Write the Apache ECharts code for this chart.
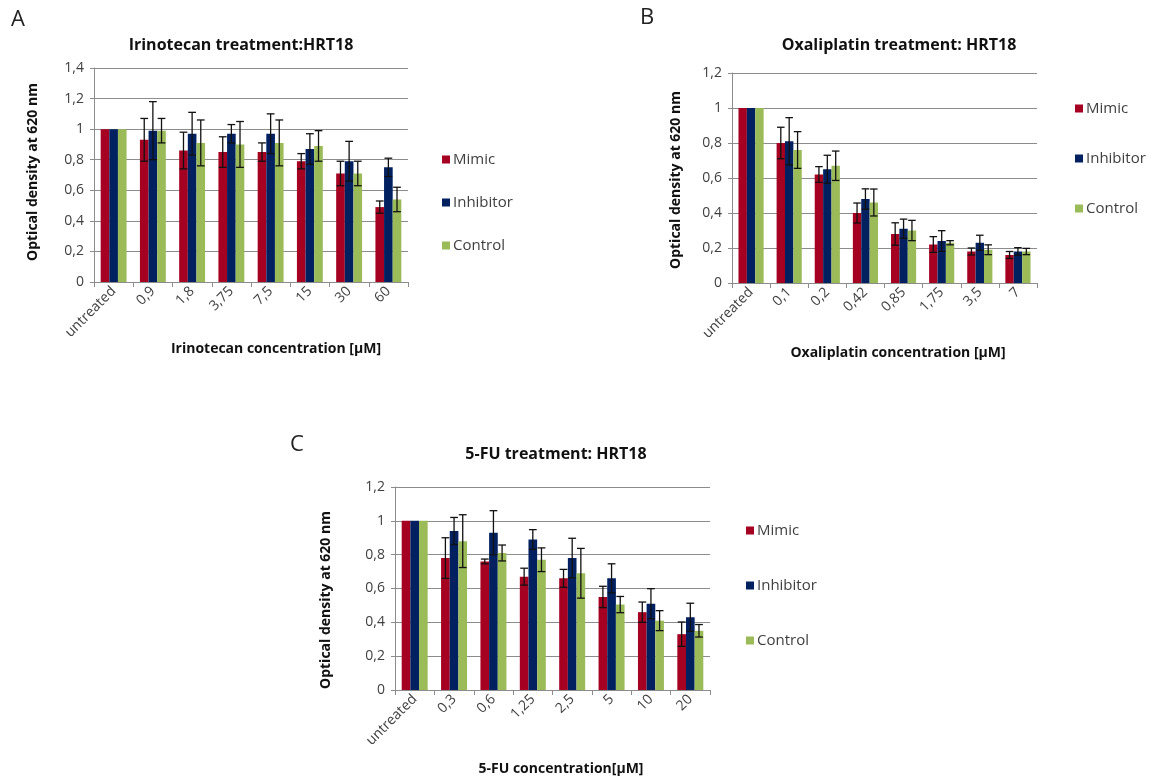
<!DOCTYPE html>
<html>
<head>
<meta charset="utf-8">
<script src="https://cdn.jsdelivr.net/npm/echarts@6/dist/echarts.min.js"></script>
<style>
  html, body { margin: 0; padding: 0; background: #fff; }
  #chart { width: 1156px; height: 783px; }
</style>
</head>
<body>
<div id="chart"></div>
<script>
// Optical density (620 nm) of HRT18 cells after drug treatment, mean ± SD
const seriesNames = ['Mimic', 'Inhibitor', 'Control'];
const seriesColors = ['#A50021', '#002060', '#9BBB59'];

// Panel A: Irinotecan
const irinoCats = ['untreated', '0,9', '1,8', '3,75', '7,5', '15', '30', '60'];
const irinoMimic = [1, 0.93, 0.86, 0.85, 0.85, 0.79, 0.71, 0.49];
const irinoMimicErr = [0, 0.14, 0.12, 0.10, 0.06, 0.05, 0.08, 0.04];
const irinoInhib = [1, 0.99, 0.97, 0.97, 0.97, 0.87, 0.79, 0.75];
const irinoInhibErr = [0, 0.19, 0.14, 0.06, 0.13, 0.10, 0.13, 0.06];
const irinoCtrl = [1, 0.99, 0.91, 0.90, 0.91, 0.89, 0.71, 0.54];
const irinoCtrlErr = [0, 0.08, 0.15, 0.15, 0.15, 0.10, 0.08, 0.08];

// Panel B: Oxaliplatin
const oxaliCats = ['untreated', '0,1', '0,2', '0,42', '0,85', '1,75', '3,5', '7'];
const oxaliMimic = [1, 0.80, 0.62, 0.40, 0.28, 0.22, 0.18, 0.16];
const oxaliMimicErr = [0, 0.09, 0.045, 0.057, 0.064, 0.045, 0.02, 0.02];
const oxaliInhib = [1, 0.81, 0.65, 0.48, 0.31, 0.24, 0.23, 0.18];
const oxaliInhibErr = [0, 0.135, 0.08, 0.058, 0.055, 0.059, 0.043, 0.022];
const oxaliCtrl = [1, 0.76, 0.67, 0.46, 0.30, 0.23, 0.19, 0.18];
const oxaliCtrlErr = [0, 0.105, 0.084, 0.077, 0.058, 0.012, 0.028, 0.018];

// Panel C: 5-FU
const fuCats = ['untreated', '0,3', '0,6', '1,25', '2,5', '5', '10', '20'];
const fuMimic = [1, 0.78, 0.76, 0.67, 0.66, 0.55, 0.46, 0.33];
const fuMimicErr = [0, 0.12, 0.014, 0.05, 0.053, 0.063, 0.06, 0.072];
const fuInhib = [1, 0.94, 0.93, 0.89, 0.78, 0.66, 0.51, 0.43];
const fuInhibErr = [0, 0.08, 0.13, 0.058, 0.117, 0.086, 0.089, 0.083];
const fuCtrl = [1, 0.88, 0.81, 0.77, 0.69, 0.505, 0.41, 0.35];
const fuCtrlErr = [0, 0.156, 0.047, 0.07, 0.147, 0.048, 0.059, 0.037];

const FONT = '"Open Sans", "Liberation Sans", sans-serif';
const TXT = '#404040';
const GRIDLINE = '#8C8C8C';
const CAT_GAP = 0.34;

const panels = [
  {
    cats: irinoCats, yMax: 1.4,
    values: [irinoMimic, irinoInhib, irinoCtrl],
    errors: [irinoMimicErr, irinoInhibErr, irinoCtrlErr],
    grid: { left: 94, top: 68, width: 314, height: 214 }
  },
  {
    cats: oxaliCats, yMax: 1.2,
    values: [oxaliMimic, oxaliInhib, oxaliCtrl],
    errors: [oxaliMimicErr, oxaliInhibErr, oxaliCtrlErr],
    grid: { left: 732, top: 73, width: 305, height: 210 }
  },
  {
    cats: fuCats, yMax: 1.2,
    values: [fuMimic, fuInhib, fuCtrl],
    errors: [fuMimicErr, fuInhibErr, fuCtrlErr],
    grid: { left: 395, top: 487, width: 315, height: 203 }
  }
];

const grids = [], xAxes = [], yAxes = [], series = [];

panels.forEach((p, gi) => {
  grids.push(Object.assign({ containLabel: false }, p.grid));
  xAxes.push({
    type: 'category', gridIndex: gi, data: p.cats,
    axisLine: { lineStyle: { color: GRIDLINE, width: 1 } },
    axisTick: { show: true, length: 5, lineStyle: { color: GRIDLINE } },
    axisLabel: { rotate: 45, color: TXT, fontSize: 14, fontFamily: FONT, margin: 7, interval: 0 }
  });
  yAxes.push({
    type: 'value', gridIndex: gi, min: 0, max: p.yMax, interval: 0.2,
    axisLine: { show: true, lineStyle: { color: GRIDLINE, width: 1 } },
    axisTick: { show: true, length: 4, lineStyle: { color: GRIDLINE } },
    splitLine: { show: true, lineStyle: { color: GRIDLINE, width: 1 } },
    axisLabel: {
      color: TXT, fontSize: 14, fontFamily: FONT, margin: 10,
      formatter: v => String(Math.round(v * 10) / 10).replace('.', ',')
    }
  });

  seriesNames.forEach((name, si) => {
    series.push({
      type: 'bar', name, xAxisIndex: gi, yAxisIndex: gi,
      data: p.values[si],
      barGap: '0%', barCategoryGap: (CAT_GAP * 100) + '%',
      itemStyle: { color: seriesColors[si] },
      z: 2
    });
  });

  // error bars drawn on top of each grouped bar
  seriesNames.forEach((name, si) => {
    series.push({
      type: 'custom', xAxisIndex: gi, yAxisIndex: gi,
      data: p.values[si].map((v, i) => [i, v, p.errors[si][i]]),
      encode: { x: 0, y: 1 },
      z: 5, silent: true,
      renderItem: (params, api) => {
        const idx = api.value(0), v = api.value(1), e = api.value(2);
        if (!e) return null;
        const band = api.size([1, 0])[0];
        const bw = band * (1 - CAT_GAP) / 3;
        const cx = api.coord([idx, v])[0] + (si - 1) * bw;
        const yTop = api.coord([idx, v + e])[1];
        const yBot = api.coord([idx, v - e])[1];
        const cap = bw * 0.45;
        const style = { stroke: '#111', lineWidth: 1.3 };
        return {
          type: 'group',
          children: [
            { type: 'line', shape: { x1: cx, y1: yTop, x2: cx, y2: yBot }, style },
            { type: 'line', shape: { x1: cx - cap, y1: yTop, x2: cx + cap, y2: yTop }, style },
            { type: 'line', shape: { x1: cx - cap, y1: yBot, x2: cx + cap, y2: yBot }, style }
          ]
        };
      }
    });
  });
});

const legendBase = {
  orient: 'vertical', icon: 'rect', itemWidth: 8, itemHeight: 8,
  data: seriesNames, selectedMode: false,
  textStyle: { color: TXT, fontSize: 15, fontFamily: FONT, padding: [0, 0, 0, -2] }
};

const titleStyle = { color: '#111', fontSize: 16, fontWeight: 'bold', fontFamily: FONT };

function text(x, y, str, opts) {
  return Object.assign({
    type: 'text', x, y,
    style: Object.assign({ text: str, fill: '#111', font: 'bold 14px ' + FONT, textAlign: 'center', textVerticalAlign: 'middle' }, opts || {})
  });
}

const option = {
  backgroundColor: '#fff',
  animation: false,
  title: [
    { text: 'Irinotecan treatment:HRT18', left: 236, top: 32, textAlign: 'center', textStyle: titleStyle },
    { text: 'Oxaliplatin treatment: HRT18', left: 894, top: 32, textAlign: 'center', textStyle: titleStyle },
    { text: '5-FU treatment: HRT18', left: 551, top: 441, textAlign: 'center', textStyle: titleStyle }
  ],
  legend: [
    Object.assign({ left: 437, top: 147, itemGap: 28 }, legendBase),
    Object.assign({ left: 1070, top: 96, itemGap: 35 }, legendBase),
    Object.assign({ left: 741, top: 518, itemGap: 40 }, legendBase)
  ],
  grid: grids,
  xAxis: xAxes,
  yAxis: yAxes,
  series,
  graphic: [
    text(18, 20, 'A', { font: '22px ' + FONT, fill: '#222' }),
    text(647, 18, 'B', { font: '22px ' + FONT, fill: '#222' }),
    text(297, 445, 'C', { font: '22px ' + FONT, fill: '#222' }),
    text(276, 349, 'Irinotecan concentration [µM]'),
    text(898, 353, 'Oxaliplatin concentration [µM]'),
    text(561, 769, '5-FU concentration[µM]'),
    Object.assign(text(33, 172, 'Optical density at 620 nm'), { rotation: Math.PI / 2 }),
    Object.assign(text(676, 180, 'Optical density at 620 nm'), { rotation: Math.PI / 2 }),
    Object.assign(text(326, 600, 'Optical density at 620 nm'), { rotation: Math.PI / 2 })
  ]
};

const chart = echarts.init(document.getElementById('chart'), null, { renderer: 'canvas' });
chart.setOption(option);
</script>
</body>
</html>
